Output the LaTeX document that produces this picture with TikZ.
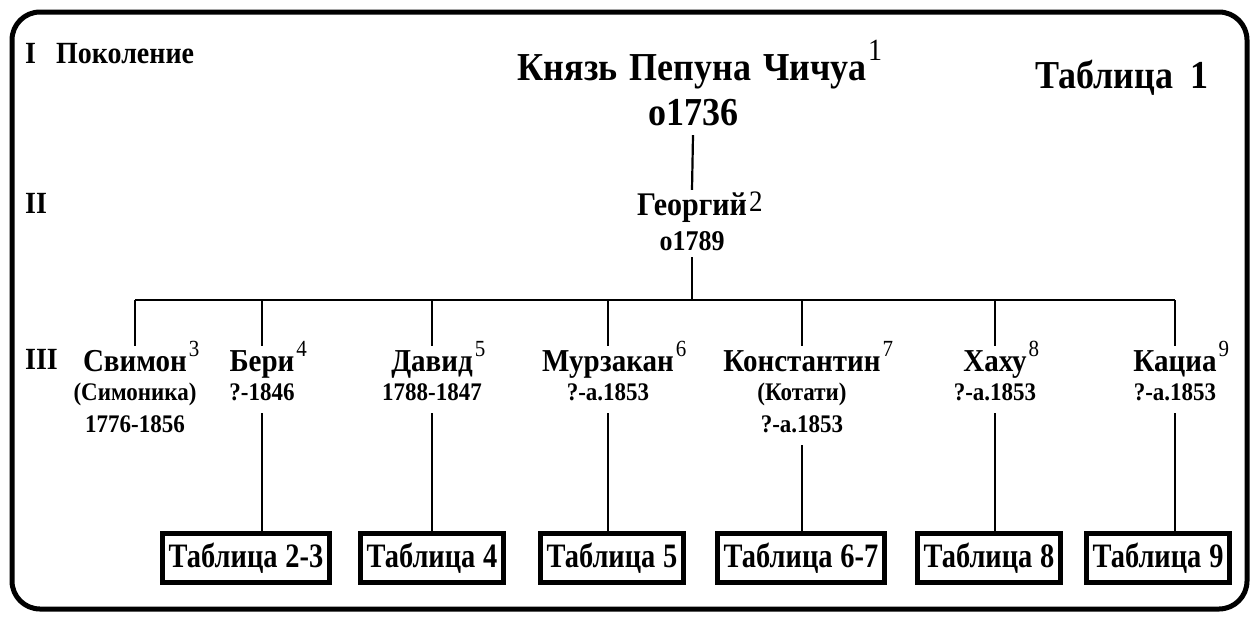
\documentclass[tikz,border=0pt]{standalone}
\usepackage{fontspec}
\usepackage{graphicx}
\setmainfont{Liberation Serif}
\usetikzlibrary{positioning}
% raised number after a name: raise, size, text
\newcommand{\sus}[3]{\rlap{\kern2pt\raisebox{#1pt}{\normalfont\fontsize{#2}{#2}\selectfont #3}}}
\newcommand{\tx}[1]{\scalebox{1}[1.1]{#1}}
\newcommand{\tb}[1]{\scalebox{0.98}[1.18]{#1}}

\begin{document}
\begin{tikzpicture}[x=1pt,y=-1pt,
	gen/.style={anchor=base west,inner sep=0,font=\bfseries\fontsize{28}{28}\selectfont},
	nm/.style={anchor=base,inner xsep=0,inner ysep=5pt,text height=20pt,text depth=6pt,font=\bfseries\fontsize{29}{29}\selectfont},
	dt/.style={anchor=base,inner xsep=0,inner ysep=8pt,text height=17pt,text depth=5pt,font=\bfseries\fontsize{23}{23}\selectfont},
	tab/.style={draw,line width=5pt,inner xsep=6pt,minimum height=49pt,font=\bfseries\fontsize{29}{29}\selectfont},
	con/.style={line width=2.2pt}]
	\useasboundingbox (0,0) rectangle (1255,616);
	\draw[line width=5pt,rounded corners=28pt] (12,12) rectangle (1247,609);

	% generations
	\node[gen] (g1) at (25,63) {\tx{I\hspace{20pt}Поколение}};
	\node[gen] (g2) at (25,213) {\tx{II}};
	\node[gen] (g3) at (25,369) {\tx{III}};

	% I
	\node[anchor=base,inner sep=0,font=\bfseries\fontsize{36}{36}\selectfont] (pr) at (692,80)
		{\tx{Князь\hspace{12pt}Пепуна\hspace{12pt}Чичуа\sus{18}{28}{1}}};
	\node[anchor=base,inner xsep=0,inner ysep=8pt,text depth=2pt,font=\bfseries\fontsize{36}{36}\selectfont] (pd) at (693,125) {\tx{о1736}};
	\node[anchor=base west,inner sep=0,font=\bfseries\fontsize{36}{36}\selectfont] (t1) at (1035,88) {\tx{Таблица\hspace{17pt}1}};

	% II
	\node[nm,font=\bfseries\fontsize{30}{30}\selectfont] (geo) at (692,215) {\tx{Георгий\sus{3}{27}{2}}};
	\node[dt,inner ysep=2pt,font=\bfseries\fontsize{26}{26}\selectfont] (gd) at (692,250) {\tx{о1789}};
	\draw[con] (pd.south) -- (geo.north);
	\coordinate (bus) at (692,300);

	% III
	\node[nm] (s1) at (135,371) {\tx{Свимон\sus{13}{21}{3}}};
	\node[dt] at (135,400) {\tx{(Симоника)}};
	\node[dt] (d1) at (135,432) {\tx{1776-1856}};
	\node[nm] (s2) at (262,371) {\tx{Бери\sus{13}{21}{4}}};
	\node[dt] (d2) at (262,400) {\tx{?-1846}};
	\node[nm] (s3) at (432,371) {\tx{Давид\sus{13}{21}{5}}};
	\node[dt] (d3) at (432,400) {\tx{1788-1847}};
	\node[nm] (s4) at (608,371) {\tx{Мурзакан\sus{13}{21}{6}}};
	\node[dt] (d4) at (608,400) {\tx{?-а.1853}};
	\node[nm] (s5) at (802,371) {\tx{Константин\sus{13}{21}{7}}};
	\node[dt] at (802,400) {\tx{(Котати)}};
	\node[dt] (d5) at (802,432) {\tx{?-а.1853}};
	\node[nm] (s6) at (995,371) {\tx{Хаху\sus{13}{21}{8}}};
	\node[dt] (d6) at (995,400) {\tx{?-а.1853}};
	\node[nm] (s7) at (1175,371) {\tx{Кациа\sus{13}{21}{9}}};
	\node[dt] (d7) at (1175,400) {\tx{?-а.1853}};

	\draw[con] (gd.south) -- (bus);
	\draw[con] (s1.north |- bus) -- (s7.north |- bus);
	\foreach \n in {s1,s2,s3,s4,s5,s6,s7}
		\draw[con] (\n.north) -- (\n.north |- bus);

	% tables
	\node[tab] (b1) at (246,558) {\tb{Таблица\hspace{8pt}2-3}};
	\node[tab] (b2) at (432,558) {\tb{Таблица\hspace{8pt}4}};
	\node[tab] (b3) at (612,558) {\tb{Таблица\hspace{8pt}5}};
	\node[tab] (b4) at (801,558) {\tb{Таблица\hspace{8pt}6-7}};
	\node[tab] (b5) at (989,558) {\tb{Таблица\hspace{8pt}8}};
	\node[tab] (b6) at (1158,558) {\tb{Таблица\hspace{8pt}9}};

	\draw[con] (d2.south) -- (d2.south |- b1.north);
	\draw[con] (d3.south) -- (d3.south |- b2.north);
	\draw[con] (d4.south) -- (d4.south |- b3.north);
	\draw[con] (d5.south) -- (d5.south |- b4.north);
	\draw[con] (d6.south) -- (d6.south |- b5.north);
	\draw[con] (d7.south) -- (d7.south |- b6.north);
\end{tikzpicture}
\end{document}
